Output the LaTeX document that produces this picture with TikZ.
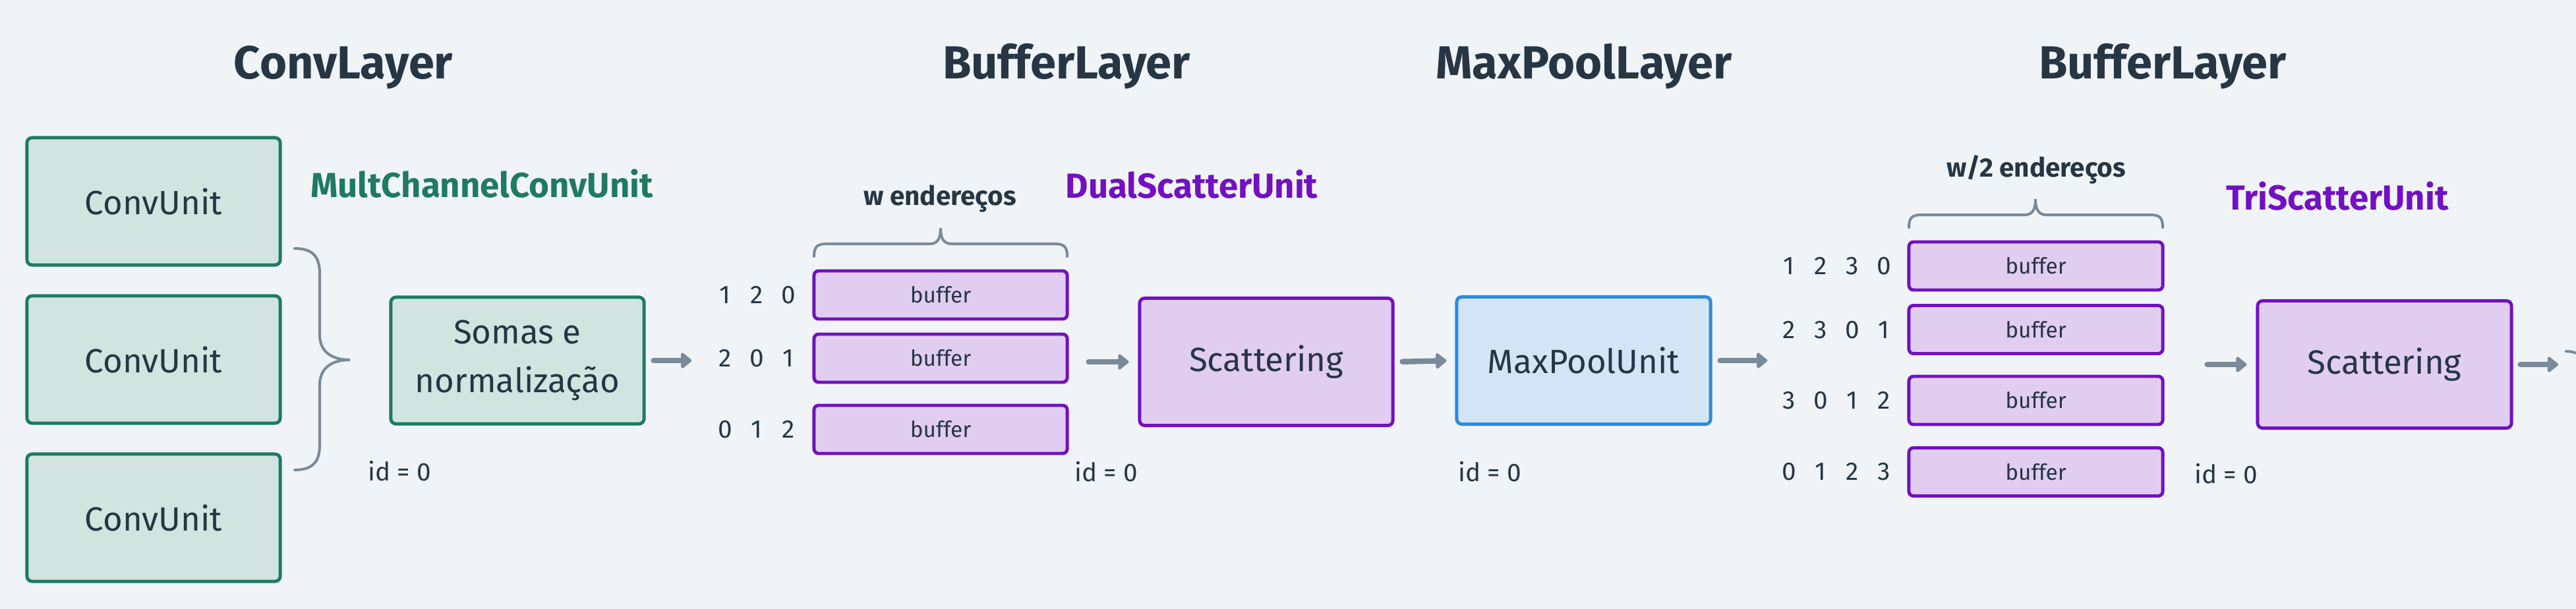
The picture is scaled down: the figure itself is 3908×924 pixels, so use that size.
\documentclass[tikz,border=0pt]{standalone}
\usepackage{fontspec}
\setmainfont{Fira Sans}
\usetikzlibrary{arrows.meta}
\definecolor{bg}{HTML}{F0F4F7}
\definecolor{ink}{HTML}{263645}
\definecolor{grn}{HTML}{1F7A64}
\definecolor{grnfill}{HTML}{D2E4DF}
\definecolor{pur}{HTML}{7210C2}
\definecolor{purfill}{HTML}{E1CDF0}
\definecolor{blu}{HTML}{2E8BDC}
\definecolor{blufill}{HTML}{D3E5F5}
\definecolor{gry}{HTML}{7A8A99}
\newcommand{\digcell}[1]{\makebox[0.48cm]{#1}}
\begin{document}
\begin{tikzpicture}[x=0.01cm,y=-0.01cm,
  box/.style={rectangle, rounded corners=2.2pt, line width=1.4pt, minimum width=3.84cm, minimum height=1.93cm, inner sep=0pt, text=ink, font=\fontsize{14.5}{21}\selectfont, align=center},
  gbox/.style={box, draw=grn, fill=grnfill},
  pbox/.style={box, draw=pur, fill=purfill},
  bbox/.style={box, draw=blu, fill=blufill},
  buf/.style={rectangle, rounded corners=2pt, line width=1.4pt, draw=pur, fill=purfill, minimum width=3.84cm, minimum height=0.73cm, inner sep=0pt, text=ink, font=\fontsize{9.5}{11}\selectfont},
  title/.style={anchor=base, text=ink, font=\fontsize{20}{24}\selectfont\bfseries, inner sep=0pt},
  unitlbl/.style={anchor=base, font=\fontsize{15}{18}\selectfont\bfseries, inner sep=0pt},
  addr/.style={anchor=base, text=ink, font=\fontsize{11.5}{14}\selectfont\bfseries, inner sep=0pt},
  idl/.style={text=ink, font=\fontsize{11}{13}\selectfont, inner sep=0pt},
  nums/.style={text=ink, font=\fontsize{11}{13}\selectfont, inner sep=0pt},
  arr/.style={draw=gry, line width=2.4pt, line cap=round, -{Triangle[length=5pt,width=7.7pt,round]}},
  brc/.style={draw=gry, line width=1.15pt, line cap=round},
]
\useasboundingbox (0,0) rectangle (3908,924);
\clip (0,0) rectangle (3908,924);
\fill[bg] (0,0) rectangle (3908,924);

% titles
\node[title] (t1) at (521,120) {ConvLayer};
\node[title] (t2) at (1618,120) {BufferLayer};
\node[title] (t3) at (2403,120) {MaxPoolLayer};
\node[title] (t4) at (3281,120) {BufferLayer};

% unit labels
\node[unitlbl, text=grn] (l1) at (731,299) {MultChannelConvUnit};
\node[unitlbl, text=pur] (l2) at (1808,300) {DualScatterUnit};
\node[unitlbl, text=pur] (l3) at (3546,318) {TriScatterUnit};

% conv layer
\node[gbox] (cu1) at (233,305.5) {ConvUnit};
\node[gbox] (cu2) at (233,545.5) {ConvUnit};
\node[gbox] (cu3) at (233,785.5) {ConvUnit};
\node[gbox, minimum height=1.92cm] (somas) at (785,547) {Somas e\\normalização};
\node[idl] (id1) at (606,714.5) {id = 0};
\draw[brc] (447,377) .. controls (475,377) and (485,390) .. (485,415) -- (485,508)
  .. controls (485,535) and (505,546) .. (531,546)
  .. controls (505,546) and (485,557) .. (485,584) -- (485,675)
  .. controls (485,700) and (475,713) .. (447,713);

% buffer layer 1
\node[addr] (w1) at (1426,311) {w endereços};
\draw[brc] (1235,389) .. controls (1235,374) and (1240,370) .. (1254,370) -- (1410,370)
  .. controls (1421,370) and (1427,364) .. (1427,346)
  .. controls (1427,364) and (1433,370) .. (1444,370) -- (1600,370)
  .. controls (1614,370) and (1619,374) .. (1619,389);
\node[buf] (b11) at (1427,447.5) {buffer};
\node[buf] (b12) at (1427,543.5) {buffer};
\node[buf] (b13) at (1427,651.5) {buffer};
\node[nums] (n11) at (1148,448) {\digcell{1}\digcell{2}\digcell{0}};
\node[nums] (n12) at (1148,544) {\digcell{2}\digcell{0}\digcell{1}};
\node[nums] (n13) at (1148,652) {\digcell{0}\digcell{1}\digcell{2}};
\node[pbox] (sc1) at (1921,549) {Scattering};
\node[idl] (id2) at (1678,716) {id = 0};

% maxpool layer
\node[bbox, minimum width=3.85cm] (mp) at (2402.5,547) {MaxPoolUnit};
\node[idl] (id3) at (2260,716) {id = 0};

% buffer layer 2
\node[addr] (w2) at (3089,268) {w/2 endereços};
\draw[brc] (2896,345) .. controls (2896,330) and (2901,326) .. (2915,326) -- (3071,326)
  .. controls (3082,326) and (3088,320) .. (3088,302)
  .. controls (3088,320) and (3094,326) .. (3105,326) -- (3262,326)
  .. controls (3276,326) and (3281,330) .. (3281,345);
\node[buf, minimum width=3.85cm] (b21) at (3088.5,403.5) {buffer};
\node[buf, minimum width=3.85cm] (b22) at (3088.5,500) {buffer};
\node[buf, minimum width=3.85cm] (b23) at (3088.5,607.5) {buffer};
\node[buf, minimum width=3.85cm] (b24) at (3088.5,716) {buffer};
\node[nums] (n21) at (2786,404) {\digcell{1}\digcell{2}\digcell{3}\digcell{0}};
\node[nums] (n22) at (2786,501) {\digcell{2}\digcell{3}\digcell{0}\digcell{1}};
\node[nums] (n23) at (2786,608) {\digcell{3}\digcell{0}\digcell{1}\digcell{2}};
\node[nums] (n24) at (2786,716) {\digcell{0}\digcell{1}\digcell{2}\digcell{3}};
\node[pbox, minimum width=3.85cm] (sc2) at (3617.5,553) {Scattering};
\node[idl] (id4) at (3377,719) {id = 0};

% arrows
\coordinate (outc) at (3881,553);
\draw[arr, shorten <=0.12cm, shorten >=0.26cm] (somas.east) -- (n12.west |- somas.east);
\draw[arr, shorten <=0.30cm, shorten >=0.14cm] (b12.east |- sc1.west) -- (sc1.west);
\draw[arr, shorten <=0.12cm, shorten >=0.13cm] (sc1.east) -- (mp.west);
\draw[arr, shorten <=0.12cm, shorten >=0.08cm] (mp.east) -- (n22.west |- mp.east);
\draw[arr, shorten <=0.65cm, shorten >=0.14cm] (b22.east |- sc2.west) -- (sc2.west);
\draw[arr, shorten <=0.11cm] (sc2.east) -- (outc);

% partial element at the right edge
\coordinate (nb) at (3893,533);
\draw[brc] (nb) .. controls (3915,533) and (3926,547) .. (3931,569);
\end{tikzpicture}
\end{document}
